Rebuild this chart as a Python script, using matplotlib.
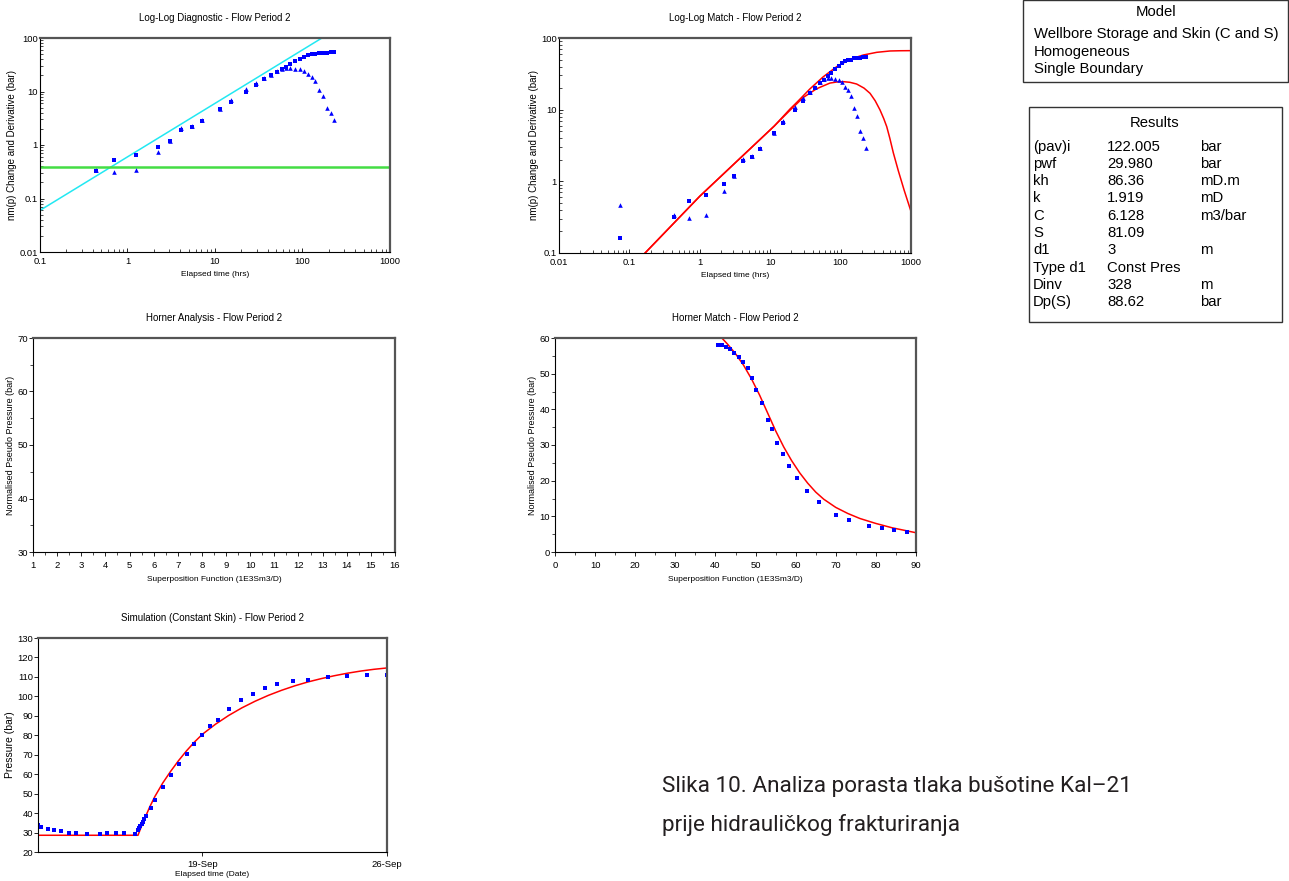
import numpy as np
import pandas as pd
import matplotlib
matplotlib.use('Agg')
import matplotlib.pyplot as plt
import matplotlib.dates as mdates
from matplotlib.patches import Rectangle
from matplotlib.ticker import MultipleLocator, LogLocator, NullFormatter, FuncFormatter

plt.rcParams['font.family'] = ['Liberation Sans', 'DejaVu Sans']

# ---- build-up data, flow period 2 ----
t_hrs = [0.073, 0.434, 0.706, 1.24, 2.21, 3.08, 4.12, 5.46, 7.16, 11.4, 15.2, 22.4, 29.7,
         36.6, 44.0, 51.2, 58.3, 65.3, 72.0, 82.8, 93.6, 105, 116, 128, 140, 155, 172, 190, 210, 227]
dp_bar = [0.16, 0.32, 0.53, 0.64, 0.92, 1.17, 1.9, 2.2, 2.85, 4.65, 6.5, 10.0, 13.4,
          16.9, 20.0, 23.5, 26.0, 29.1, 32.2, 36.6, 41.0, 44.2, 47.4, 49.5, 50.0, 51.8, 52.5, 53.1, 53.7, 53.7]
deriv_bar = [0.47, 0.34, 0.31, 0.34, 0.73, 1.2, 2.05, 2.25, 2.95, 4.8, 7.0, 11.0, 14.4,
             17.5, 20.5, 24.0, 26.5, 27.5, 27.5, 26.7, 26.0, 24.5, 20.9, 18.9, 15.5, 10.5, 8.2, 5.0, 4.0, 2.9]

# diagnostic lines
unit_slope_coef = 0.6      # dp = 0.6 * t
radial_level = 0.38

# model response (WBS + skin, homogeneous, const. pressure boundary)
model_p_t = [0.167, 1, 11.4, 19.1, 23.8, 36.7, 56.8, 88, 136, 210, 326, 503, 700, 1000]
model_p = [0.1, 0.62, 5.9, 10.2, 12.6, 19.5, 28.8, 39.8, 50.5, 57.9, 63.1, 65.9, 66.4, 66.6]
model_d_t = [0.167, 1, 11.4, 19.1, 29.5, 45.7, 70.6, 90, 109, 135, 169, 215, 262, 310,
             363, 410, 452, 500, 561, 661, 800, 1000]
model_d = [0.1, 0.62, 5.9, 9.8, 14.8, 19.6, 23.5, 24.4, 24.6, 24.1, 22.8, 20.0, 16.9, 13.3,
           9.9, 7.5, 5.8, 4.0, 2.5, 1.4, 0.75, 0.38]

# Horner match (superposition function vs normalised pseudo pressure)
sup_fn = [40.6, 41.6, 42.6, 43.6, 44.7, 45.8, 46.9, 48.0, 49.0, 50.1, 51.5, 53.0, 54.1, 55.4,
          56.9, 58.4, 60.4, 62.8, 65.9, 70.1, 73.3, 78.3, 81.5, 84.5, 87.7]
horner_p = [58.1, 58.1, 57.4, 56.9, 55.8, 54.6, 53.4, 51.7, 48.7, 45.5, 41.7, 37.0, 34.4, 30.7,
            27.5, 24.1, 20.7, 17.2, 13.9, 10.5, 8.9, 7.2, 6.6, 6.2, 5.6]
horner_model_x = [41.6, 43, 45, 47, 49, 51, 53, 55, 57, 59, 61, 63, 65, 67, 70, 73, 76, 80, 84, 87, 90]
horner_model_p = [60.0, 58.3, 55.6, 52.4, 48.5, 44.0, 39.0, 34.0, 29.5, 25.6, 22.2, 19.3, 16.8,
                  14.8, 12.5, 10.8, 9.4, 8.0, 6.8, 6.1, 5.4]

# pressure history, days relative to 19-Sep
sim_days = [-6.23, -6.12, -5.85, -5.64, -5.36, -5.06, -4.78, -4.36, -3.89, -3.60, -3.29, -2.96, -2.54,
            -2.44, -2.40, -2.35, -2.30, -2.25, -2.20, -2.14, -1.95, -1.78, -1.49, -1.19, -0.88, -0.58,
            -0.30, 0.0, 0.30, 0.61, 1.02, 1.48, 1.93, 2.38, 2.83, 3.43, 4.01, 4.75, 5.50, 6.25, 7.0]
sim_p = [33.7, 33.0, 32.0, 31.3, 30.6, 30.0, 29.6, 29.4, 29.4, 29.6, 29.6, 29.6, 29.4,
         31.1, 32.2, 33.2, 34.2, 35.6, 36.8, 38.7, 42.8, 46.6, 53.2, 59.4, 65.2, 70.5,
         75.3, 80.0, 84.6, 88.0, 93.7, 98.0, 101.4, 104.5, 106.4, 107.7, 108.6, 109.8, 110.3, 111.0, 111.2]
sim_model_days = [-6.23, -2.44, -2.3, -2.15, -2.0, -1.8, -1.5, -1.2, -0.9, -0.6, -0.3, 0.0,
                  0.5, 1.0, 1.5, 2.0, 2.5, 3.0, 3.5, 4.0, 4.5, 5.0, 5.5, 6.0, 6.5, 7.0]
sim_model_p = [28.6, 28.6, 33.5, 38.3, 43.0, 48.5, 55.5, 61.5, 67.0, 72.0, 76.5, 80.5,
               85.7, 90.2, 94.1, 97.5, 100.5, 103.1, 105.4, 107.4, 109.1, 110.6, 111.9, 113.0, 113.9, 114.6]

model_lines = ['Wellbore Storage and Skin (C and S)', 'Homogeneous', 'Single Boundary']
res_names = ['(pav)i', 'pwf', 'kh', 'k', 'C', 'S', 'd1', 'Type d1', 'Dinv', 'Dp(S)']
res_values = ['122.005', '29.980', '86.36', '1.919', '6.128', '81.09', '3', 'Const Pres', '328', '88.62']
res_units = ['bar', 'bar', 'mD.m', 'mD', 'm3/bar', '', 'm', '', 'm', 'bar']

caption = ['Slika 10. Analiza porasta tlaka bušotine Kal\u201321', 'prije hidrauličkog frakturiranja']

BLUE = '#0000FF'
RED = '#FF0000'
W, H = 1289, 881
fig = plt.figure(figsize=(W / 100, H / 100), dpi=100)


def px_axes(l, t, r, b):
    return fig.add_axes([l / W, 1 - b / H, (r - l) / W, (b - t) / H])


def style(ax, title, xlabel, ylabel, log=False, ylabel_size=6.5, xlabelpad=4):
    ax.set_title(title, fontsize=7, pad=12)
    ax.set_xlabel(xlabel, fontsize=6, labelpad=xlabelpad)
    ax.set_ylabel(ylabel, fontsize=ylabel_size, labelpad=1.5)
    for s in ['left', 'bottom']:
        ax.spines[s].set_linewidth(0.8)
    for s in ['top', 'right']:
        ax.spines[s].set_linewidth(1.6)
        ax.spines[s].set_color('#555555')
    d = 'in' if log else 'out'
    ax.tick_params(which='major', labelsize=6.8, length=3, width=0.6, direction=d)
    ax.tick_params(which='minor', length=2, width=0.5, direction=d)
    ax.tick_params(axis='x', which='major', pad=3.5)
    ax.tick_params(axis='y', which='major', pad=1.5 if log else 0.5)


def log_fmt(v, pos):
    return '%g' % v


def markers(ax, x, y, kind):
    if kind == 'p':
        ax.plot(x, y, 's', color=BLUE, ms=2.6, mew=0)
    else:
        ax.plot(x, y, '^', color=BLUE, ms=3.3, mew=0)


# Log-Log Diagnostic
ax1 = px_axes(40, 38, 390, 252)
ax1.set_xscale('log')
ax1.set_yscale('log')
ax1.set_xlim(0.1, 1000)
ax1.set_ylim(0.01, 100)
xl = np.array(ax1.get_xlim())
ax1.plot(xl, unit_slope_coef * xl, color='#22E8F2', lw=1.1)
ax1.axhline(radial_level, color='#44DD44', lw=1.8)
markers(ax1, t_hrs, dp_bar, 'p')
markers(ax1, t_hrs, deriv_bar, 'd')
style(ax1, 'Log-Log Diagnostic - Flow Period 2', 'Elapsed time (hrs)',
      'nm(p) Change and Derivative (bar)', log=True, ylabel_size=7)

# Log-Log Match
ax2 = px_axes(559, 38, 911, 253)
ax2.set_xscale('log')
ax2.set_yscale('log')
ax2.set_xlim(0.01, 1000)
ax2.set_ylim(0.1, 100)
ax2.plot(model_p_t, model_p, color=RED, lw=1.1)
ax2.plot(model_d_t, model_d, color=RED, lw=1.1)
markers(ax2, t_hrs, dp_bar, 'p')
markers(ax2, t_hrs, deriv_bar, 'd')
style(ax2, 'Log-Log Match - Flow Period 2', 'Elapsed time (hrs)',
      'nm(p) Change and Derivative (bar)', log=True, ylabel_size=7)

for ax in (ax1, ax2):
    ax.xaxis.set_major_locator(LogLocator(base=10))
    ax.yaxis.set_major_locator(LogLocator(base=10))
    ax.xaxis.set_minor_locator(LogLocator(base=10, subs=np.arange(2, 10)))
    ax.yaxis.set_minor_locator(LogLocator(base=10, subs=np.arange(2, 10)))
    ax.xaxis.set_major_formatter(FuncFormatter(log_fmt))
    ax.yaxis.set_major_formatter(FuncFormatter(log_fmt))
    ax.xaxis.set_minor_formatter(NullFormatter())
    ax.yaxis.set_minor_formatter(NullFormatter())

# Horner Analysis (no data plotted)
ax3 = px_axes(33, 338, 395, 552)
ax3.set_xlim(1, 16)
ax3.set_ylim(30, 70)
ax3.xaxis.set_major_locator(MultipleLocator(1))
ax3.xaxis.set_minor_locator(MultipleLocator(0.5))
ax3.yaxis.set_major_locator(MultipleLocator(10))
ax3.yaxis.set_minor_locator(MultipleLocator(5))
style(ax3, 'Horner Analysis - Flow Period 2', 'Superposition Function (1E3Sm3/D)',
      'Normalised Pseudo Pressure (bar)')

# Horner Match
ax4 = px_axes(555, 338, 916, 552)
ax4.set_xlim(0, 90)
ax4.set_ylim(0, 60)
ax4.plot(horner_model_x, horner_model_p, color=RED, lw=1.1)
markers(ax4, sup_fn, horner_p, 'p')
ax4.xaxis.set_major_locator(MultipleLocator(10))
ax4.xaxis.set_minor_locator(MultipleLocator(5))
ax4.yaxis.set_major_locator(MultipleLocator(10))
ax4.yaxis.set_minor_locator(MultipleLocator(5))
style(ax4, 'Horner Match - Flow Period 2', 'Superposition Function (1E3Sm3/D)',
      'Normalised Pseudo Pressure (bar)')

# Simulation
base = pd.Timestamp('2008-09-19')
to_dates = lambda d: (base + pd.to_timedelta(np.array(d), unit='D')).to_numpy()
ax5 = px_axes(38, 638, 387, 852)
ax5.plot(to_dates(sim_model_days), sim_model_p, color=RED, lw=1.1)
markers(ax5, to_dates(sim_days), sim_p, 'p')
ax5.set_xlim(to_dates([-6.23, 7.0]))
ax5.set_ylim(20, 130)
ax5.yaxis.set_major_locator(MultipleLocator(10))
ax5.xaxis.set_major_locator(mdates.DayLocator(bymonthday=[19, 26]))
ax5.xaxis.set_major_formatter(mdates.DateFormatter('%d-%b'))
style(ax5, 'Simulation (Constant Skin) - Flow Period 2', 'Elapsed time (Date)', 'Pressure (bar)',
      ylabel_size=7.5, xlabelpad=1.5)
ax5.tick_params(axis='x', which='major', pad=2.5)

# Model / Results boxes
fs_box = 10.7
fig.add_artist(Rectangle((1023 / W, 1 - 81.5 / H), 265 / W, 81.5 / H, transform=fig.transFigure,
                         fill=False, lw=1.0, ec='#333333'))
fig.text(1156 / W, 1 - 11.7 / H, 'Model', ha='center', va='center', fontsize=fs_box)
for i, line in enumerate(model_lines):
    fig.text(1034 / W, 1 - (34.3 + 17.5 * i) / H, line, va='center', fontsize=fs_box)

fig.add_artist(Rectangle((1029 / W, 1 - 322 / H), 253 / W, 215 / H, transform=fig.transFigure,
                         fill=False, lw=1.0, ec='#333333'))
fig.text(1155 / W, 1 - 122.5 / H, 'Results', ha='center', va='center', fontsize=fs_box)
for i in range(len(res_names)):
    y = 1 - (146.5 + 17.3 * i) / H
    fig.text(1033 / W, y, res_names[i], va='center', fontsize=fs_box)
    fig.text(1107 / W, y, res_values[i], va='center', fontsize=fs_box)
    fig.text(1200 / W, y, res_units[i], va='center', fontsize=fs_box)

# caption
for i, line in enumerate(caption):
    fig.text(662 / W, 1 - (792 + 39 * i) / H, line, va='baseline', fontsize=16.2,
             family=['Roboto', 'DejaVu Sans'], color='#231F20')

fig.savefig('out.png', dpi=100)
